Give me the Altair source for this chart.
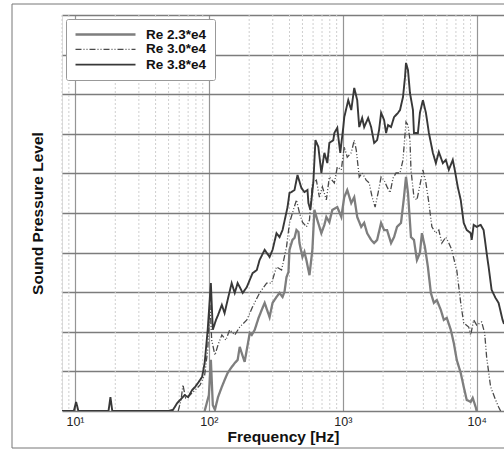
import altair as alt
import pandas as pd

series_names = ["Re 2.3*e4", "Re 3.0*e4", "Re 3.8*e4"]

# (frequency [Hz], sound pressure level [relative units 0-100])
re23 = [(93, 0), (100, 4.0), (103.5, 12.9), (107, 1.5), (111, 0.3), (117, 3.5), (125, 6.1),
        (131, 7.8), (138, 9.6), (148, 11.1), (156, 12.1), (164, 12.9), (170, 16.2), (176, 14.6),
        (185, 12.4), (202, 19.7), (209, 19.2), (220, 20.5), (235, 23.5), (248, 25.5), (261, 27.3),
        (284, 23.7), (299, 27.3), (320, 28.8), (337, 29.8), (355, 28.8), (367, 30.1), (380, 33.8),
        (393, 35.1), (400, 40.7), (421, 43.2), (436, 43.7), (451, 45.7), (467, 45.2), (475, 42.4),
        (500, 38.9), (517, 40.2), (535, 38.1), (564, 34.3), (593, 40.7), (614, 50.8), (646, 48.2),
        (692, 44.9), (729, 47.0), (754, 49.0), (794, 47.7), (836, 50.8), (910, 51.5), (975, 49.0),
        (1026, 54.0), (1080, 55.8), (1157, 52.5), (1218, 54.0), (1282, 49.0), (1373, 46.5),
        (1445, 47.5), (1521, 44.9), (1629, 43.2), (1715, 42.4), (1805, 43.2), (1933, 47.5),
        (2035, 45.7), (2142, 45.7), (2294, 42.4), (2415, 43.9), (2542, 46.5), (2722, 47.5),
        (2866, 54.0), (2966, 59.1), (3069, 55.1), (3231, 43.9), (3401, 43.2), (3580, 38.1),
        (3769, 39.9), (3901, 44.9), (4107, 41.4), (4323, 36.4), (4550, 29.8), (4790, 27.3),
        (5042, 28.0), (5400, 25.5), (5684, 23.0), (5984, 23.5), (6408, 20.5), (6745, 17.2),
        (7100, 12.9), (7603, 9.6), (8004, 6.1), (8427, 2.8), (9025, 2.3), (9339, 3.3),
        (9831, 1.0), (10000, 0)]

re30 = [(59, 0), (62, 2.8), (64, 6.6), (67, 3.3), (72, 4.0), (79, 5.3), (86, 6.6), (93, 9.1),
        (98, 15.4), (102, 26.8), (105, 17.9), (111, 14.1), (117, 16.7), (125, 19.2), (134, 17.9),
        (143, 20.5), (156, 19.2), (170, 21.2), (192, 23.0), (212, 26.3), (239, 29.8), (270, 32.3),
        (294, 32.3), (320, 36.4), (349, 35.6), (380, 41.4), (400, 47.5), (421, 50.0), (451, 53.3),
        (475, 50.0), (500, 47.7), (535, 46.5), (564, 48.2), (593, 57.6), (635, 58.3), (669, 54.0),
        (704, 56.6), (754, 53.3), (794, 59.1), (865, 57.6), (910, 61.6), (975, 60.9), (1026, 66.7),
        (1080, 64.1), (1157, 65.2), (1218, 68.4), (1261, 65.9), (1327, 59.1), (1396, 60.1),
        (1495, 58.3), (1574, 57.6), (1657, 54.0), (1744, 51.5), (1836, 55.1), (1933, 59.1),
        (2035, 58.3), (2142, 56.6), (2255, 55.1), (2374, 58.8), (2499, 60.1), (2676, 60.1),
        (2817, 63.4), (2966, 73.0), (3069, 72.2), (3176, 68.4), (3231, 60.9), (3401, 54.0),
        (3580, 53.3), (3835, 58.3), (3968, 60.9), (4178, 57.6), (4398, 52.5), (4629, 46.5),
        (4957, 44.9), (5218, 45.7), (5493, 42.4), (5883, 43.9), (6193, 42.4), (6518, 40.7),
        (6980, 36.4), (7100, 35.6), (7603, 27.3), (8004, 22.2), (8721, 21.2), (9025, 19.2),
        (9500, 23.0), (10000, 21.7), (10890, 22.5), (11470, 19.7), (11870, 13.6), (12710, 6.1),
        (13850, 2.8), (14580, 1.0), (15100, 0)]

re38 = [(8, 0), (9.8, 0), (10.2, 2.3), (10.6, 0), (17.8, 0), (18.4, 3.5), (19.0, 0), (50, 0),
        (54, 0.3), (58, 2.0), (61, 2.8), (66, 4.0), (70, 3.5), (75, 5.3), (79, 6.1), (83, 7.1),
        (89, 8.6), (93, 12.1), (98, 20.5), (103.5, 32.3), (107, 20.5), (113, 23.0), (117, 24.2),
        (125, 26.8), (131, 24.7), (138, 28.0), (148, 32.3), (156, 29.8), (164, 32.3), (170, 31.3),
        (179, 29.8), (192, 31.3), (212, 34.8), (228, 35.6), (239, 38.1), (261, 40.7), (284, 38.9),
        (299, 40.7), (320, 44.9), (337, 43.9), (355, 45.7), (387, 51.5), (400, 55.1), (414, 55.3),
        (436, 55.8), (459, 59.6), (491, 56.3), (517, 55.3), (545, 55.8), (554, 52.5), (573, 50.8),
        (603, 57.8), (625, 68.4), (657, 66.7), (692, 60.1), (729, 65.2), (767, 62.6), (794, 67.7),
        (850, 68.4), (865, 70.2), (910, 71.5), (926, 69.2), (958, 65.2), (1009, 71.7), (1026, 74.2),
        (1099, 78.5), (1157, 76.0), (1218, 81.6), (1282, 78.5), (1327, 71.7), (1396, 74.0),
        (1445, 71.7), (1547, 74.0), (1629, 71.7), (1715, 67.7), (1805, 68.4), (1868, 71.0),
        (1933, 75.3), (2035, 73.5), (2106, 70.2), (2179, 72.2), (2294, 71.7), (2415, 74.2),
        (2586, 75.3), (2676, 76.0), (2817, 79.3), (2916, 84.3), (2966, 87.9), (3069, 86.1),
        (3176, 80.3), (3343, 76.0), (3401, 70.2), (3642, 70.2), (3769, 75.3), (3968, 78.5),
        (4178, 75.3), (4398, 70.2), (4709, 65.2), (4957, 62.6), (5218, 65.4), (5588, 62.6),
        (5883, 63.4), (6193, 60.9), (6631, 63.4), (6861, 60.9), (7222, 56.6), (7603, 53.3),
        (8004, 47.5), (8427, 45.7), (9025, 44.9), (9180, 43.2), (9500, 47.0), (10000, 46.5),
        (10710, 47.0), (11270, 45.7), (11870, 39.9), (12280, 36.4), (12930, 30.6), (13850, 28.5),
        (14580, 27.3), (15610, 23.0), (16000, 22.0)]

major_freqs = [10, 100, 1000, 10000]
minor_freqs = [k * 10 ** d for d in (0, 1, 2, 3, 4) for k in range(2, 10) if 8 <= k * 10 ** d <= 16000]
level_ticks = list(range(0, 101, 10))

rows = []
for name, pts in zip(series_names, [re23, re30, re38]):
    for i, (f, s) in enumerate(pts):
        rows.append({"series": name, "freq": f, "spl": s, "idx": i})
df = pd.DataFrame(rows)

FONT = "Liberation Sans"
xscale = alt.Scale(type="log", domain=[8, 16000], nice=False)
yscale = alt.Scale(domain=[0, 100], nice=False)

label_expr = ("datum.value == 10 ? '10\u00b9' : datum.value == 100 ? '10\u00b2' : "
              "datum.value == 1000 ? '10\u00b3' : '10\u2074'")

x_axis = alt.Axis(values=major_freqs, labelExpr=label_expr, grid=True, gridColor="#959595",
                  gridWidth=1.2, ticks=False, domain=False, labelFontSize=12.5, labelFont=FONT,
                  labelColor="#222", labelPadding=4, labelFlush=False,
                  title="Frequency [Hz]", titleFont=FONT, titleFontSize=15.5,
                  titleFontWeight="bold", titleColor="#111", titlePadding=2)
y_axis = alt.Axis(values=level_ticks, labels=False, ticks=False, domain=False, grid=True,
                  gridColor="#7c7c7c", gridWidth=1.3, title="Sound Pressure Level",
                  titleFont=FONT, titleFontSize=15.5, titleFontWeight="bold", titleColor="#111",
                  titlePadding=17)

frame = alt.Chart(pd.DataFrame({"a": [0]})).mark_rect(
    filled=False, stroke="#777777", strokeWidth=1
).encode(x=alt.value(-50), x2=alt.value(470), y=alt.value(-11), y2=alt.value(433))

minor = alt.Chart(pd.DataFrame({"freq": minor_freqs})).mark_rule(
    color="#cfcfcf", strokeDash=[2, 2], strokeWidth=1
).encode(x=alt.X("freq:Q", scale=xscale, axis=x_axis))

legend = alt.Legend(orient="none", legendX=4, legendY=4, title=None, direction="vertical",
                    symbolType="M-1,0H9", symbolSize=144,
                    labelFont=FONT, labelFontSize=13.5,
                    labelFontWeight="bold", labelColor="#111", labelOffset=57, rowPadding=1.3,
                    padding=8, strokeColor="#999999", fillColor="white", cornerRadius=2)

lines = alt.Chart(df).mark_line(clip=True).encode(
    x=alt.X("freq:Q", scale=xscale, axis=x_axis),
    y=alt.Y("spl:Q", scale=yscale, axis=y_axis),
    order="idx:Q",
    color=alt.Color("series:N", scale=alt.Scale(domain=series_names,
                    range=["#7e7e7e", "#4a4a4a", "#383838"]), legend=legend),
    strokeDash=alt.StrokeDash("series:N", scale=alt.Scale(domain=series_names,
                    range=[[1, 0], [6, 2, 1, 2, 1, 2], [1, 0]]), legend=legend),
    strokeWidth=alt.StrokeWidth("series:N", scale=alt.Scale(type="ordinal", domain=series_names,
                    range=[2.3, 1.3, 1.9]), legend=legend),
)

chart = alt.layer(frame, minor, lines).properties(
    width=442, height=396,
    autosize=alt.AutoSizeParams(type="none"),
    padding={"left": 62, "top": 15, "right": 0, "bottom": 39},
).configure_view(stroke="#222222", strokeWidth=1.6).configure(font=FONT)

chart.save("out.html", embed_options={"renderer": "svg", "actions": False})
